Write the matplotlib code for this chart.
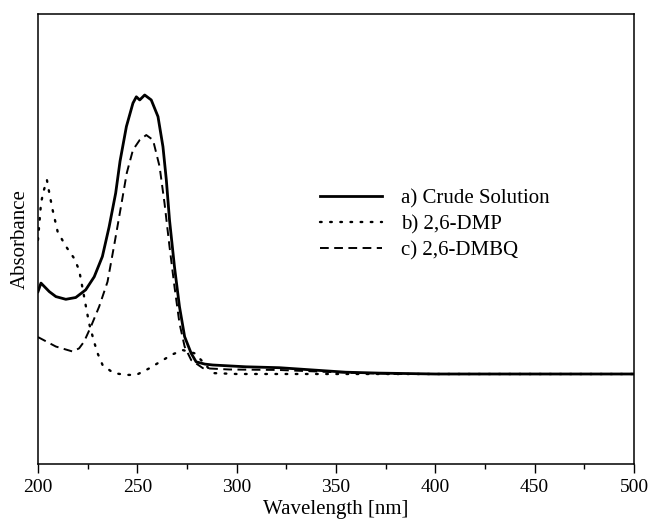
import matplotlib
matplotlib.use("Agg")
import matplotlib.pyplot as plt
from matplotlib.ticker import MultipleLocator

plt.rcParams['font.family'] = ['Liberation Serif', 'DejaVu Serif']

# a) Crude solution
wl_a = [200, 201.5, 205.7, 209, 214, 219, 224, 228.3, 232.4, 235.8, 239.1, 241.3, 244.5, 247.8,
        249.5, 251.2, 253.7, 257, 260.4, 262.9, 264.6, 266.2, 268.7, 271.2, 273.8, 277.1, 279.6,
        284, 288, 304.7, 321.4, 338.1, 354.9, 371.6, 400, 500]
abs_a = [0.383, 0.402, 0.383, 0.372, 0.366, 0.370, 0.387, 0.416, 0.461, 0.527, 0.602, 0.673,
         0.750, 0.802, 0.816, 0.809, 0.820, 0.809, 0.772, 0.705, 0.631, 0.542, 0.438, 0.350,
         0.283, 0.246, 0.227, 0.222, 0.220, 0.216, 0.214, 0.209, 0.204, 0.202, 0.200, 0.200]

# b) 2,6-DMP
wl_b = [200, 201.5, 202.7, 204.5, 205.7, 207.4, 209.9, 214, 218.2, 220.7, 221.9, 224, 225.7,
        228.2, 230, 232.5, 238, 244.5, 249.5, 256.2, 262.9, 267.9, 273, 278.8, 283, 288, 300, 500]
abs_b = [0.498, 0.579, 0.605, 0.631, 0.602, 0.564, 0.516, 0.484, 0.457, 0.431, 0.403, 0.353,
         0.313, 0.272, 0.246, 0.220, 0.202, 0.198, 0.198, 0.213, 0.231, 0.244, 0.253, 0.246,
         0.227, 0.202, 0.200, 0.200]

# c) 2,6-DMBQ
wl_c = [200, 209, 217.4, 220.7, 223.2, 226.6, 230.8, 235, 238.5, 241.8, 244.7, 247.8, 251.2,
        254.5, 257.9, 261.2, 263.7, 266.2, 268.7, 271.2, 273.8, 277.1, 283, 296.3, 321, 355,
        380, 500]
abs_c = [0.282, 0.261, 0.250, 0.257, 0.272, 0.305, 0.350, 0.405, 0.490, 0.573, 0.647, 0.698,
         0.720, 0.731, 0.720, 0.661, 0.579, 0.483, 0.394, 0.313, 0.261, 0.231, 0.213, 0.210,
         0.209, 0.203, 0.200, 0.200]

labels = ["a) Crude Solution", "b) 2,6-DMP", "c) 2,6-DMBQ"]
xticks = [200, 250, 300, 350, 400, 450, 500]

fig = plt.figure(figsize=(6.52, 5.24), dpi=100)
ax = fig.add_axes([38/652, (524-464)/524, (634-38)/652, (464-14)/524])

ax.plot(wl_a, abs_a, color='black', lw=2.0, label=labels[0], solid_joinstyle='round')
ax.plot(wl_b, abs_b, color='black', lw=1.7, linestyle=(0, (0.7, 3.6)), dash_capstyle='round',
        label=labels[1])
ax.plot(wl_c, abs_c, color='black', lw=1.4, linestyle=(0, (4.5, 2.8)), label=labels[2])

ax.set_xlim(200, 500)
ax.set_ylim(0, 1)
ax.set_xticks(xticks)
ax.xaxis.set_minor_locator(MultipleLocator(25))
ax.set_yticks([])
ax.tick_params(axis='x', which='major', direction='out', length=6.5, width=1.0, labelsize=14, pad=4)
ax.tick_params(axis='x', which='minor', direction='out', length=3.8, width=1.0)
for s in ax.spines.values():
    s.set_linewidth(1.1)

ax.set_xlabel("Wavelength [nm]", fontsize=15, labelpad=3)
ax.set_ylabel("Absorbance", fontsize=15, labelpad=6)

leg = ax.legend(loc='upper left', bbox_to_anchor=(0.473, 0.612), frameon=False, fontsize=15,
                handlelength=3.0, handletextpad=0.9, labelspacing=0.32, borderpad=0, borderaxespad=0)

fig.savefig("out.png", dpi=100)
